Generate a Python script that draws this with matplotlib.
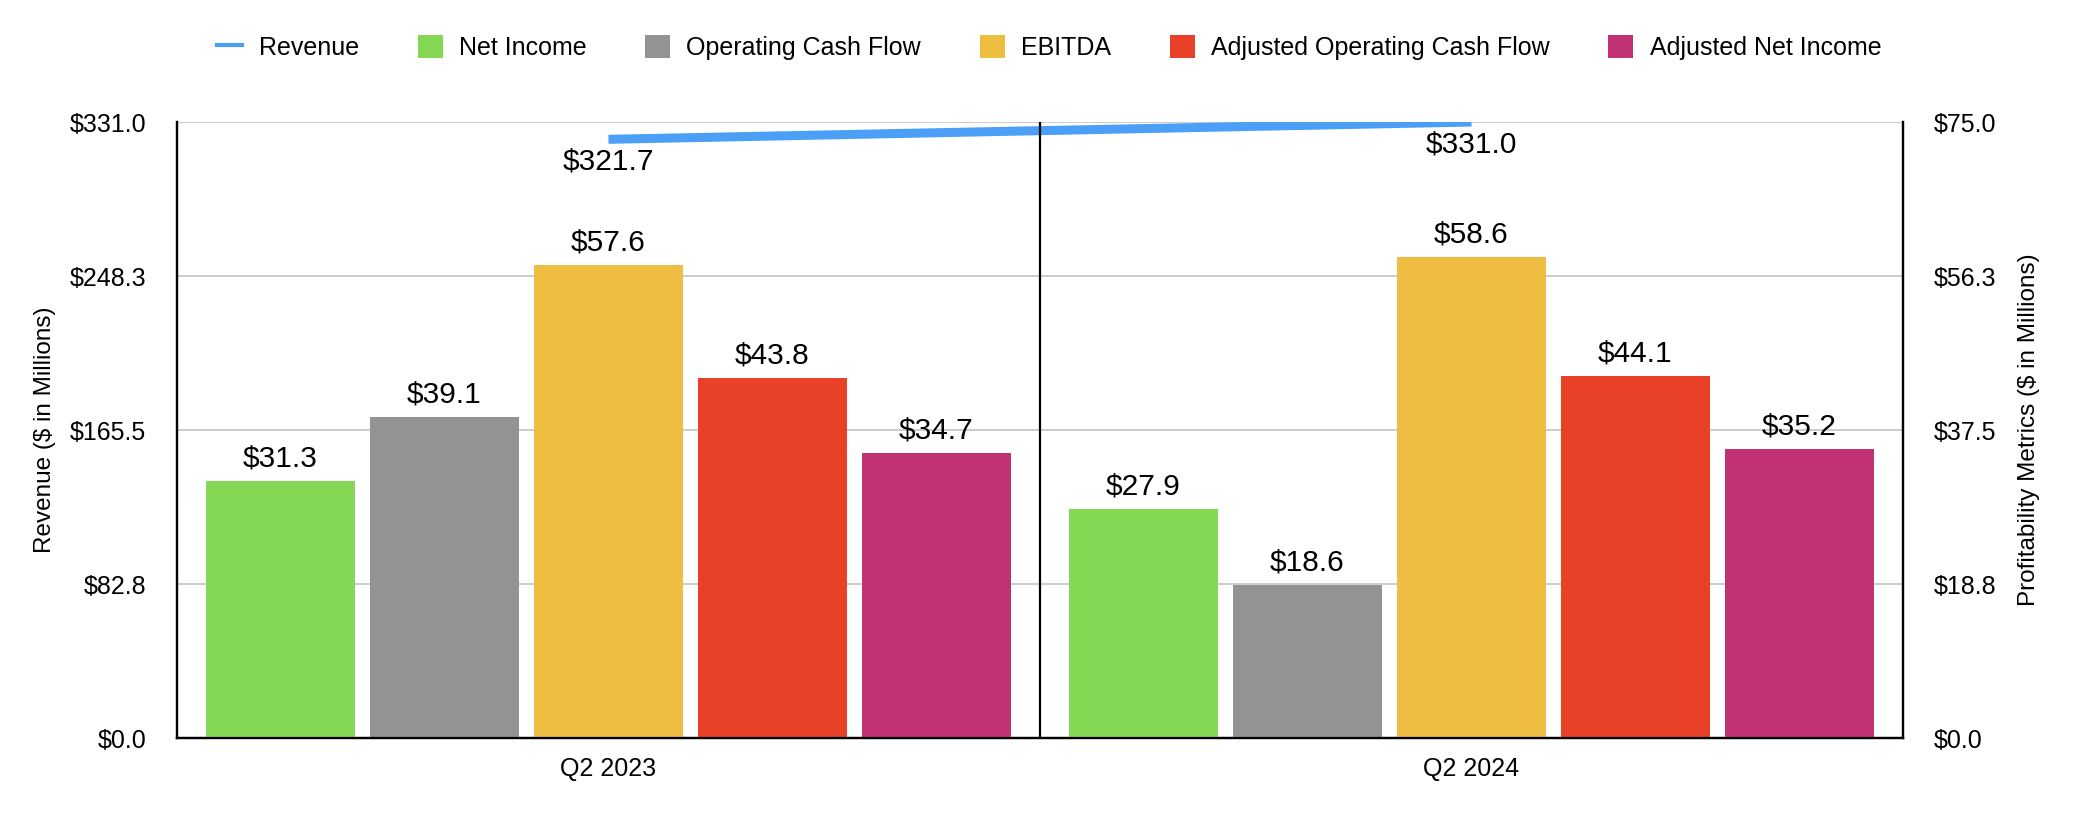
#!/usr/bin/env python3
"""
Revenue vs profitability metrics, Q2 2023 vs Q2 2024.
"""
import numpy as np
import matplotlib
matplotlib.use('Agg')
import matplotlib.pyplot as plt
from matplotlib.lines import Line2D
from matplotlib.patches import Patch

plt.rcParams['font.family'] = ['Liberation Sans', 'DejaVu Sans']

quarters = ['Q2 2023', 'Q2 2024']
revenue = [321.7, 331.0]

metric_names = ['Net Income', 'Operating Cash Flow', 'EBITDA',
                'Adjusted Operating Cash Flow', 'Adjusted Net Income']
net_income = [31.3, 27.9]
op_cash_flow = [39.1, 18.6]
ebitda = [57.6, 58.6]
adj_op_cash_flow = [43.8, 44.1]
adj_net_income = [34.7, 35.2]
metrics = [net_income, op_cash_flow, ebitda, adj_op_cash_flow, adj_net_income]

left_ticks = [0, 82.75, 165.5, 248.25, 331.0]
left_labels = ['$0.0', '$82.8', '$165.5', '$248.3', '$331.0']
right_ticks = [0, 18.75, 37.5, 56.25, 75.0]
right_labels = ['$0.0', '$18.8', '$37.5', '$56.3', '$75.0']

colors = ['#84D854', '#939393', '#EEBD42', '#E94127', '#C13275']
rev_color = '#4B9FF6'

fig = plt.figure(figsize=(20.82, 8.38), dpi=100)
ax1 = fig.add_axes([0.085, 0.1193, 0.829, 0.7351])
ax2 = ax1.twinx()

x = np.arange(len(quarters))
pitch = 0.19
width = 0.1727

# bars on the right axis
for i, (vals, col) in enumerate(zip(metrics, colors)):
    pos = x + (i - 2) * pitch
    ax2.bar(pos, vals, width=width, color=col, zorder=2)
    for px, v in zip(pos, vals):
        ax2.annotate(f'${v:.1f}', (px, v), xytext=(0, 6), textcoords='offset points',
                     ha='center', va='bottom', fontsize=21.5)

# revenue line on the left axis
ax1.plot(x, revenue, color=rev_color, lw=6.5, solid_capstyle='butt', zorder=3)
for px, v in zip(x, revenue):
    ax1.annotate(f'${v:.1f}', (px, v), xytext=(0, -16), textcoords='offset points',
                 ha='center', va='center', fontsize=21.5)

ax1.set_xlim(-0.5, 1.5)
ax1.set_ylim(0, 331.0)
ax2.set_ylim(0, 75.0)
ax1.set_yticks(left_ticks)
ax1.set_yticklabels(left_labels)
ax2.set_yticks(right_ticks)
ax2.set_yticklabels(right_labels)
ax1.set_xticks(x)
ax1.set_xticklabels(quarters)

ax1.yaxis.grid(True, color='#C8C8C8', lw=1.3)
ax1.set_axisbelow(True)
ax2.axvline(0.5, color='black', lw=1.6, zorder=4)

for ax in (ax1, ax2):
    ax.tick_params(axis='y', length=0, pad=22, labelsize=18)
    ax.tick_params(axis='x', length=0, pad=14, labelsize=18)
    ax.spines['top'].set_visible(False)
    for s in ('left', 'right', 'bottom'):
        ax.spines[s].set_linewidth(1.6)
        ax.spines[s].set_color('black')

ax1.set_ylabel('Revenue ($ in Millions)', fontsize=17.5, labelpad=10)
ax2.set_ylabel('Profitability Metrics ($ in Millions)', fontsize=17.5, labelpad=16)

handles = [Line2D([0], [0], color=rev_color, lw=3)]
handles += [Patch(facecolor=c) for c in colors]
labels = ['Revenue'] + metric_names
fig.legend(handles, labels, loc='center', bbox_to_anchor=(0.504, 0.943), ncol=6,
           frameon=False, fontsize=18, handlelength=1.0, handleheight=1.0,
           handletextpad=0.65, columnspacing=2.35)

plt.savefig('out.png', dpi=100)
